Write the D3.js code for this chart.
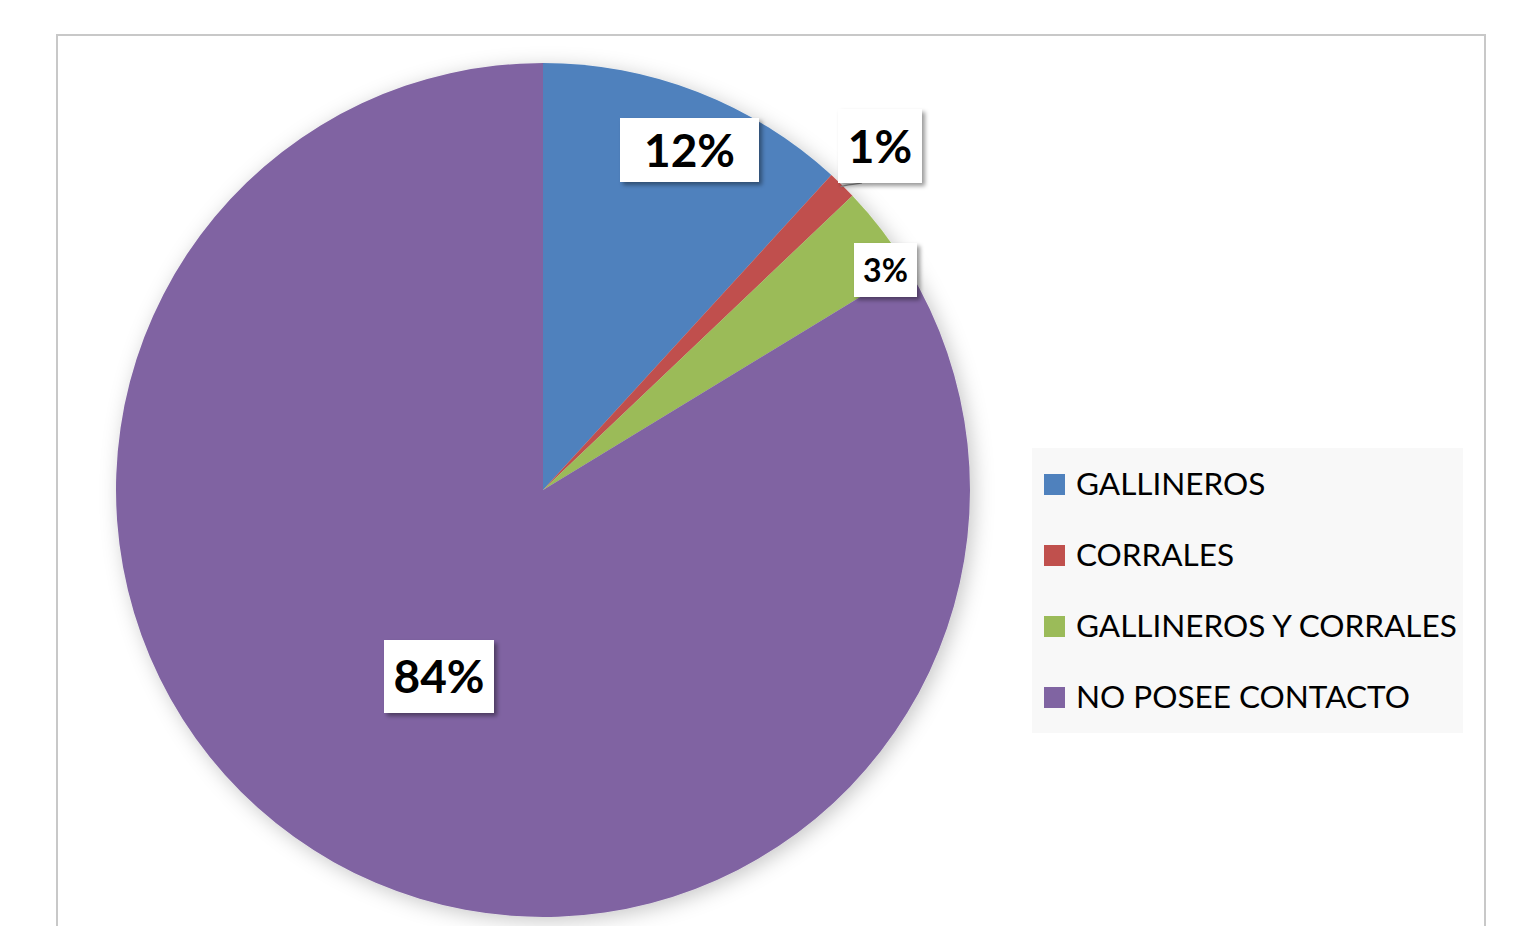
<!DOCTYPE html>
<html>
<head>
<meta charset="utf-8">
<script src="https://cdn.jsdelivr.net/npm/d3@7"></script>
<style>
  body { margin: 0; background: #fff; }
  svg { display: block; }
</style>
</head>
<body>
<svg id="chart" width="1519" height="926"></svg>
<script>
const categories = ["GALLINEROS", "CORRALES", "GALLINEROS Y CORRALES", "NO POSEE CONTACTO"];
const values = [11.8, 1.1, 3.4, 83.7];
const labels = ["12%", "1%", "3%", "84%"];
const colors = ["#4f81bd", "#c0504d", "#9bbb59", "#8064a2"];

const svg = d3.select("#chart");
const cx = 543, cy = 490, radius = 427;

const defs = svg.append("defs");
const pieShadow = defs.append("filter").attr("id", "pieShadow")
  .attr("x", "-20%").attr("y", "-20%").attr("width", "140%").attr("height", "140%");
pieShadow.append("feDropShadow")
  .attr("dx", 4).attr("dy", 4).attr("stdDeviation", 10)
  .attr("flood-color", "#000").attr("flood-opacity", 0.22);

const boxShadow = defs.append("filter").attr("id", "boxShadow")
  .attr("x", "-20%").attr("y", "-20%").attr("width", "150%").attr("height", "150%");
boxShadow.append("feDropShadow")
  .attr("dx", 3).attr("dy", 3).attr("stdDeviation", 2)
  .attr("flood-color", "#000").attr("flood-opacity", 0.4);

// chart frame (runs past the bottom of the picture)
svg.append("rect")
  .attr("x", 57).attr("y", 35)
  .attr("width", 1428).attr("height", 960)
  .attr("fill", "#fff")
  .attr("stroke", "#c8c8c8")
  .attr("stroke-width", 2);

const pie = d3.pie().sort(null).value(d => d)(values);
const arc = d3.arc().innerRadius(0).outerRadius(radius);

const g = svg.append("g").attr("transform", `translate(${cx},${cy})`);

g.append("g").attr("filter", "url(#pieShadow)")
  .selectAll("path")
  .data(pie)
  .enter()
  .append("path")
  .attr("d", arc)
  .attr("fill", (d, i) => colors[i]);

// data label boxes (top-left corner relative to pie centre)
const labelPos = [
  { x: 77, y: -372, w: 139, h: 64, fs: 46 },
  { x: 295, y: -381, w: 84, h: 74, fs: 46 },
  { x: 311, y: -247, w: 63, h: 54, fs: 32 },
  { x: -159, y: 150, w: 110, h: 73, fs: 46 }
];

// leader line for the small slice
const mid1 = (pie[1].startAngle + pie[1].endAngle) / 2;
const ex = Math.sin(mid1) * (radius - 2), ey = -Math.cos(mid1) * (radius - 2);
g.append("path")
  .attr("d", d3.line().curve(d3.curveBasis)([
    [ex, ey],
    [ex + 6, labelPos[1].y + labelPos[1].h + 2],
    [labelPos[1].x + 24, labelPos[1].y + labelPos[1].h]
  ]))
  .attr("fill", "none")
  .attr("stroke", "#8c8c8c")
  .attr("stroke-width", 1.2);

const lab = g.selectAll("g.lab")
  .data(pie)
  .enter()
  .append("g")
  .attr("class", "lab")
  .attr("transform", (d, i) => `translate(${labelPos[i].x + labelPos[i].w / 2},${labelPos[i].y + labelPos[i].h / 2})`);

lab.append("rect")
  .attr("x", (d, i) => -labelPos[i].w / 2)
  .attr("y", (d, i) => -labelPos[i].h / 2)
  .attr("width", (d, i) => labelPos[i].w)
  .attr("height", (d, i) => labelPos[i].h)
  .attr("fill", "#fff")
  .attr("filter", "url(#boxShadow)");

lab.append("text")
  .text((d, i) => labels[i])
  .attr("text-anchor", "middle")
  .attr("dy", "0.36em")
  .attr("font-family", "Lato, 'Open Sans', sans-serif")
  .attr("font-weight", "bold")
  .attr("font-size", (d, i) => labelPos[i].fs)
  .attr("fill", "#000");

// legend
const legend = svg.append("g").attr("transform", "translate(1032,448)");
legend.append("rect")
  .attr("width", 431).attr("height", 285)
  .attr("fill", "#f8f8f8");

const items = legend.selectAll("g.item")
  .data(categories)
  .enter()
  .append("g")
  .attr("class", "item")
  .attr("transform", (d, i) => `translate(12,${26 + i * 71})`);

items.append("rect")
  .attr("width", 21).attr("height", 21)
  .attr("fill", (d, i) => colors[i]);

items.append("text")
  .text(d => d)
  .attr("x", 32)
  .attr("y", 21)
  .attr("font-family", "Lato, 'Open Sans', sans-serif")
  .attr("font-size", 31.5)
  .attr("fill", "#000");
</script>
</body>
</html>
